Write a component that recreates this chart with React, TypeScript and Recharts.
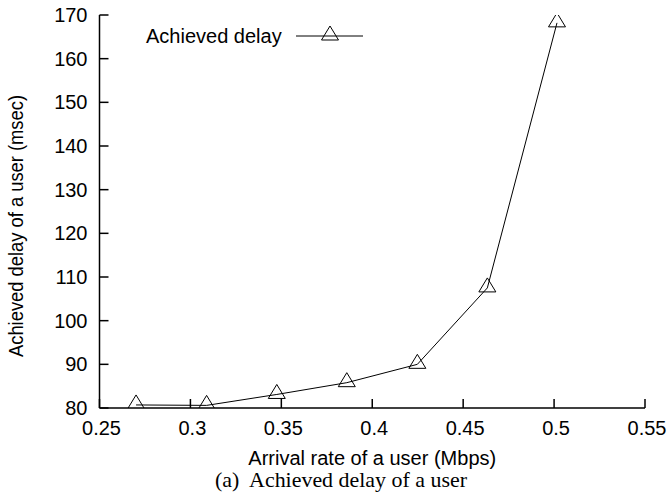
import { ComposedChart, Legend, Line, XAxis, YAxis } from "recharts";

const arrivalRates = [0.2701, 0.3089, 0.3475, 0.386, 0.4248, 0.4633, 0.5016];
const achievedDelay = [80.7, 80.6, 83.1, 85.8, 90.0, 107.5, 168.2];
const xTicks = [0.25, 0.3, 0.35, 0.4, 0.45, 0.5, 0.55];
const yTicks = [80, 90, 100, 110, 120, 130, 140, 150, 160, 170];

const data = arrivalRates.map((rate, i) => ({ rate, delay: achievedDelay[i] }));

const FONT = "'Liberation Sans', Arial, Helvetica, sans-serif";
const TICK_LEN = 9;

function triangle(cx: number, cy: number) {
  return `M${cx},${cy - 10} L${cx + 8.5},${cy + 4} L${cx - 8.5},${cy + 4} Z`;
}

function TriangleDot(props: any) {
  const { cx, cy } = props;
  if (cx == null || cy == null) return null;
  return <path d={triangle(cx, cy)} fill="none" stroke="#000" strokeWidth={1} />;
}

function BottomTick({ x, y, payload }: any) {
  return (
    <g>
      <line x1={x} y1={y} x2={x} y2={y - TICK_LEN} stroke="#000" strokeWidth={1.5} />
      <text x={x + 2} y={y + 27} textAnchor="middle" fontSize={20} fontFamily={FONT} fill="#000">
        {payload.value}
      </text>
    </g>
  );
}

function TopTick({ x, y }: any) {
  return <line x1={x} y1={y} x2={x} y2={y + TICK_LEN} stroke="#000" strokeWidth={1.5} />;
}

function LeftTick({ x, y, payload }: any) {
  return (
    <g>
      <line x1={x} y1={y} x2={x + TICK_LEN} y2={y} stroke="#000" strokeWidth={1.5} />
      <text x={x - 12} y={y + 7} textAnchor="end" fontSize={20} fontFamily={FONT} fill="#000">
        {payload.value}
      </text>
    </g>
  );
}

function RightTick({ x, y }: any) {
  return <line x1={x} y1={y} x2={x - TICK_LEN} y2={y} stroke="#000" strokeWidth={1.5} />;
}

function renderLegend() {
  return (
    <svg width={240} height={30} style={{ display: "block" }}>
      <text x={141.7} y={23.3} textAnchor="end" fontSize={20} fontFamily={FONT} fill="#000">
        Achieved delay
      </text>
      <line x1={156} y1={16} x2={223} y2={16} stroke="#000" strokeWidth={1} />
      <path d={triangle(190, 16)} fill="none" stroke="#000" strokeWidth={1} />
    </svg>
  );
}

export default function App() {
  return (
    <div
      style={{
        position: "fixed",
        left: 0,
        top: 0,
        width: 670,
        height: 496,
        background: "#fff",
        overflow: "hidden",
      }}
    >
      <ComposedChart
        width={670}
        height={496}
        data={data}
        margin={{ top: 15, right: 25, left: 0, bottom: 0 }}
        style={{ overflow: "visible" }}
      >
        <XAxis
          dataKey="rate"
          type="number"
          domain={[0.25, 0.55]}
          ticks={xTicks}
          allowDataOverflow
          height={88}
          tickSize={0}
          tickMargin={0}
          tickLine={false}
          axisLine={{ stroke: "#000", strokeWidth: 1.5 }}
          tick={BottomTick}
          interval={0}
          label={({ viewBox }: any) => (
            <text
              x={viewBox.x + viewBox.width / 2}
              y={viewBox.y + 57}
              textAnchor="middle"
              fontSize={20}
              fontFamily={FONT}
              fill="#000"
            >
              Arrival rate of a user (Mbps)
            </text>
          )}
        />
        <XAxis
          xAxisId="top"
          orientation="top"
          dataKey="rate"
          type="number"
          domain={[0.25, 0.55]}
          ticks={xTicks}
          allowDataOverflow
          height={0}
          tickSize={0}
          tickMargin={0}
          tickLine={false}
          axisLine={{ stroke: "#000", strokeWidth: 1.5 }}
          tick={TopTick}
          interval={0}
        />
        <YAxis
          type="number"
          domain={[80, 170]}
          ticks={yTicks}
          allowDataOverflow
          width={99.5}
          tickSize={0}
          tickMargin={0}
          tickLine={false}
          axisLine={{ stroke: "#000", strokeWidth: 1.5 }}
          tick={LeftTick}
          interval={0}
          label={({ viewBox }: any) => {
            const cy = viewBox.y + viewBox.height / 2 + 14.5;
            return (
              <text
                x={16}
                y={cy}
                transform={`rotate(-90 16 ${cy})`}
                textAnchor="middle"
                dominantBaseline="central"
                fontSize={20}
                fontFamily={FONT}
                textLength={262}
                lengthAdjust="spacingAndGlyphs"
                fill="#000"
              >
                Achieved delay of a user (msec)
              </text>
            );
          }}
        />
        <YAxis
          yAxisId="right"
          orientation="right"
          type="number"
          domain={[80, 170]}
          ticks={yTicks}
          allowDataOverflow
          width={0}
          tickSize={0}
          tickMargin={0}
          tickLine={false}
          axisLine={{ stroke: "#000", strokeWidth: 1.5 }}
          tick={RightTick}
          interval={0}
        />
        <Legend
          layout="horizontal"
          verticalAlign="middle"
          align="center"
          content={renderLegend}
          wrapperStyle={{ position: "absolute", left: 140, top: 20, width: 240, height: 30 }}
        />
        <Line
          dataKey="delay"
          name="Achieved delay"
          stroke="#000"
          strokeWidth={1}
          dot={<TriangleDot />}
          activeDot={false}
          isAnimationActive={false}
          type="linear"
        />
      </ComposedChart>
      <svg
        width={670}
        height={496}
        style={{ position: "absolute", left: 0, top: 0, pointerEvents: "none" }}
      >
        <text
          x={341}
          y={487}
          textAnchor="middle"
          fontSize={22}
          fontFamily="'Liberation Serif', 'Times New Roman', serif"
          textLength={252}
          lengthAdjust="spacingAndGlyphs"
          fill="#000"
          xmlSpace="preserve"
        >
          {"(a)  Achieved delay of a user"}
        </text>
      </svg>
    </div>
  );
}
